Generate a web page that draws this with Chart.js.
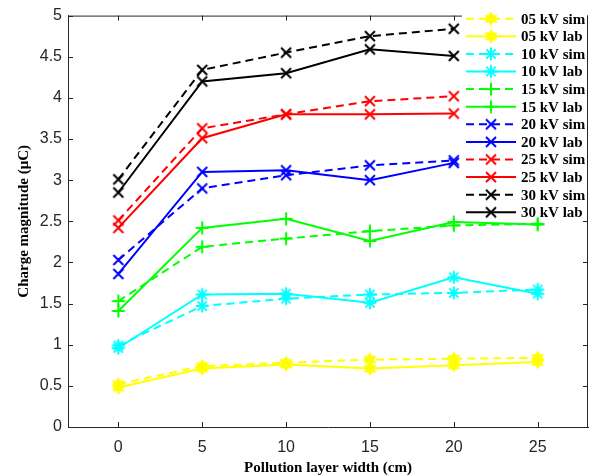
<!DOCTYPE html>
<html>
<head>
<meta charset="utf-8">
<script src="https://cdn.jsdelivr.net/npm/chart.js@4"></script>
<style>
  body { margin: 0; background: #fff; }
  #wrap { width: 593px; height: 476px; }
</style>
</head>
<body>
<div id="wrap"><canvas id="mainChart" width="593" height="476"></canvas></div>
<script>
// pollution layer width (cm)
const widths = [0, 5, 10, 15, 20, 25];
const yTicks = [0, 0.5, 1, 1.5, 2, 2.5, 3, 3.5, 4, 4.5, 5];

// charge magnitude (uC)
const sim05 = [0.52, 0.74, 0.78, 0.82, 0.83, 0.84];
const lab05 = [0.48, 0.71, 0.76, 0.71, 0.75, 0.79];
const sim10 = [0.99, 1.47, 1.56, 1.61, 1.63, 1.67];
const lab10 = [0.96, 1.61, 1.62, 1.51, 1.82, 1.62];
const sim15 = [1.53, 2.19, 2.29, 2.38, 2.45, 2.47];
const lab15 = [1.41, 2.42, 2.53, 2.26, 2.49, 2.46];
const sim20 = [2.03, 2.90, 3.06, 3.18, 3.24];
const lab20 = [1.86, 3.10, 3.12, 3.00, 3.21];
const sim25 = [2.51, 3.63, 3.80, 3.96, 4.02];
const lab25 = [2.42, 3.51, 3.80, 3.80, 3.81];
const sim30 = [3.01, 4.34, 4.55, 4.75, 4.84];
const lab30 = [2.85, 4.20, 4.30, 4.59, 4.51];

const labels = ['05 kV sim','05 kV lab','10 kV sim','10 kV lab','15 kV sim','15 kV lab',
                '20 kV sim','20 kV lab','25 kV sim','25 kV lab','30 kV sim','30 kV lab'];
const series = [sim05, lab05, sim10, lab10, sim15, lab15, sim20, lab20, sim25, lab25, sim30, lab30];
const colors = ['#ffff00','#ffff00','#00ffff','#00ffff','#00ff00','#00ff00',
                '#0000ff','#0000ff','#ff0000','#ff0000','#000000','#000000'];
const markers = ['hex','hex','star','star','plus','plus','x','x','x','x','x','x'];

// marker pictures (MATLAB style)
function makeMarker(kind, color){
    const c = document.createElement('canvas');
    c.width = 18; c.height = 18;
    const g = c.getContext('2d');
    g.strokeStyle = color; g.fillStyle = color; g.lineWidth = 2; g.lineCap = 'butt';
    const m = 9;
    g.beginPath();
    if(kind === 'x'){
        g.moveTo(m-5, m-5); g.lineTo(m+5, m+5);
        g.moveTo(m+5, m-5); g.lineTo(m-5, m+5);
        g.stroke();
    } else if(kind === 'plus'){
        g.moveTo(m-6.5, m); g.lineTo(m+6.5, m);
        g.moveTo(m, m-6.5); g.lineTo(m, m+6.5);
        g.stroke();
    } else if(kind === 'star'){
        g.moveTo(m-6.5, m); g.lineTo(m+6.5, m);
        g.moveTo(m, m-6.5); g.lineTo(m, m+6.5);
        g.moveTo(m-4.6, m-4.6); g.lineTo(m+4.6, m+4.6);
        g.moveTo(m+4.6, m-4.6); g.lineTo(m-4.6, m+4.6);
        g.stroke();
    } else {
        for(let k=0;k<12;k++){
            const r = (k%2===0) ? 7.5 : 4.2;
            const a = -Math.PI/2 + k*Math.PI/6;
            const px = m + r*Math.cos(a), py = m + r*Math.sin(a);
            if(k===0) g.moveTo(px, py); else g.lineTo(px, py);
        }
        g.closePath();
        g.fill();
    }
    return c;
}
const markerImgs = markers.map((k,i)=>makeMarker(k, colors[i]));

const datasets = series.map((vals,i)=>({
    label: labels[i],
    data: vals.map((v,j)=>({x: widths[j], y: v})),
    borderColor: colors[i],
    backgroundColor: colors[i],
    borderWidth: 2,
    borderDash: i%2===0 ? [8,5] : [],
    pointStyle: markerImgs[i],
    pointRadius: 6,
    tension: 0,
    order: series.length - i
}));

const axisColor = '#262626';

// box, inward ticks on all four sides, legend inside the top right corner
const boxPlugin = {
    id: 'boxPlugin',
    afterDatasetsDraw(chart){
        const ctx = chart.ctx;
        const a = chart.chartArea;
        const xs = chart.scales.x, ys = chart.scales.y;
        ctx.save();
        ctx.strokeStyle = axisColor;
        ctx.lineWidth = 1;
        ctx.beginPath();
        ctx.moveTo(a.left, a.top+0.5); ctx.lineTo(a.right, a.top+0.5);
        ctx.moveTo(a.right-0.5, a.top); ctx.lineTo(a.right-0.5, a.bottom);
        widths.forEach(v=>{
            const px = Math.round(xs.getPixelForValue(v))+0.5;
            ctx.moveTo(px, a.bottom); ctx.lineTo(px, a.bottom-5);
            ctx.moveTo(px, a.top); ctx.lineTo(px, a.top+5);
        });
        yTicks.forEach(v=>{
            const py = Math.round(ys.getPixelForValue(v))+0.5;
            ctx.moveTo(a.left, py); ctx.lineTo(a.left+5, py);
            ctx.moveTo(a.right, py); ctx.lineTo(a.right-5, py);
        });
        ctx.stroke();

        // legend
        ctx.fillStyle = '#fff';
        ctx.fillRect(462, 0, 125, 214);
        const x0 = 466, x1 = 516, y0 = 18.7, dy = 17.6;
        ctx.font = 'bold 15px "Liberation Serif", "Times New Roman", serif';
        ctx.textBaseline = 'middle';
        labels.forEach((lab,i)=>{
            const y = y0 + i*dy;
            ctx.strokeStyle = colors[i];
            ctx.lineWidth = 2;
            ctx.setLineDash(i%2===0 ? [8,5] : []);
            ctx.beginPath();
            ctx.moveTo(x0, y); ctx.lineTo(x1, y);
            ctx.stroke();
            ctx.setLineDash([]);
            const img = markerImgs[i];
            ctx.drawImage(img, (x0+x1)/2 - img.width/2, y - img.height/2);
            ctx.fillStyle = '#000';
            ctx.fillText(lab, 521, y+1);
        });
        ctx.restore();
    }
};

const ctx = document.getElementById('mainChart').getContext('2d');
window.myChart = new Chart(ctx, {
    type: 'line',
    data: { datasets: datasets },
    options: {
        responsive: false,
        animation: false,
        layout: { padding: { top: 12, right: 5, left: 0, bottom: 0 }, autoPadding: false },
        plugins: { legend: { display: false }, tooltip: { enabled: false } },
        scales: {
            x: {
                type: 'linear',
                min: -3, max: 28,
                grid: { display: false, drawTicks: false },
                border: { display: true, color: axisColor, width: 1 },
                afterBuildTicks: s => { s.ticks = widths.map(v=>({value: v})); },
                afterFit: s => { s.height = 49; },
                ticks: {
                    font: { family: '"Liberation Sans", Arial, sans-serif', size: 16 },
                    color: axisColor, padding: 11, maxRotation: 0,
                    callback: v => String(v)
                },
                title: {
                    display: true, text: 'Pollution layer width (cm)', color: '#000',
                    font: { family: '"Liberation Serif", "Times New Roman", serif', size: 15, weight: 'bold', lineHeight: 1 },
                    padding: { top: 0, bottom: 0 }
                }
            },
            y: {
                min: 0, max: 5,
                grid: { display: false, drawTicks: false },
                border: { display: true, color: axisColor, width: 1 },
                afterBuildTicks: s => { s.ticks = yTicks.map(v=>({value: v})); },
                afterFit: s => { s.width = 68; },
                ticks: {
                    font: { family: '"Liberation Sans", Arial, sans-serif', size: 16 },
                    color: axisColor, padding: 6,
                    callback: v => String(v)
                },
                title: {
                    display: true, text: 'Charge magnitude (μC)', color: '#000',
                    font: { family: '"Liberation Serif", "Times New Roman", serif', size: 15, weight: 'bold', lineHeight: 1.2 },
                    padding: { top: 15, bottom: 0 }
                }
            }
        }
    },
    plugins: [boxPlugin]
});
</script>
</body>
</html>
